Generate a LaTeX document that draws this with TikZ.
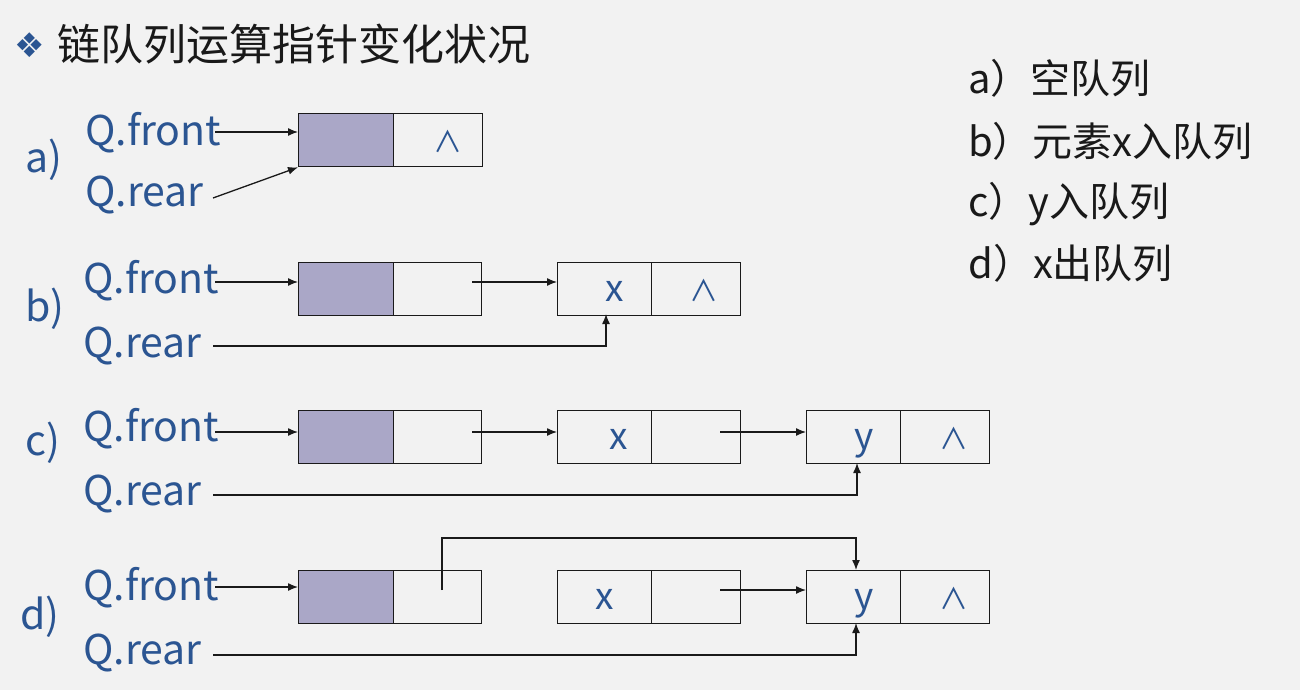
\documentclass[tikz,border=0pt]{standalone}
\usepackage{fontspec}
\setmainfont{Noto Sans CJK SC}
\newfontfamily\djv{DejaVu Sans}
\usetikzlibrary{arrows.meta}
\definecolor{bg}{HTML}{F2F2F2}
\definecolor{qblue}{HTML}{2B5592}
\definecolor{shade}{HTML}{AAA7C7}
\definecolor{ln}{HTML}{1A1A1A}
\begin{document}
\begin{tikzpicture}[x=1pt,y=-1pt,
  cell/.style={draw=ln, line width=1.3pt, minimum height=53pt, inner sep=0pt, anchor=north west,
               text height=24pt, text depth=0pt,
               text=qblue, font=\fontsize{37}{39}\selectfont},
  head/.style={cell, fill=shade, minimum width=95pt},
  ptr/.style={cell, minimum width=88pt},
  dat/.style={cell, minimum width=94pt},
  nilc/.style={cell, minimum width=89pt, font=\fontsize{29}{31}\selectfont},
  qlab/.style={anchor=base west, inner sep=0pt, text=qblue, font=\fontsize{41}{43}\selectfont},
  legend/.style={anchor=base west, inner sep=0pt, text=black!90, font=\fontsize{40}{42}\selectfont},
  arr/.style={draw=ln, line width=1.3pt, -{Latex[length=10pt,width=8pt]}},
  wire/.style={draw=ln, line width=1.3pt}]
\fill[bg] (0,0) rectangle (1300,690);
\useasboundingbox (0,0) rectangle (1300,690);

% title
\node[anchor=center, inner sep=0pt, text=qblue, font=\djv\fontsize{34}{36}\selectfont] (bullet) at (30,45) {❖};
\node[anchor=base west, inner sep=0pt, text=black!90, font=\fontsize{43}{45}\selectfont] (title) at (57,61) {链队列运算指针变化状况};

% legend
\node[legend] (la) at (968,94) {a）空队列};
\node[legend] (lb) at (968,156) {b）元素x入队列};
\node[legend] (lc) at (968,216) {c）y入队列};
\node[legend] (ld) at (968,278) {d）x出队列};

% ---------- row a ----------
\node[qlab] (ra) at (25,172) {a)};
\node[qlab] (qfa) at (85,145) {Q.front};
\node[qlab] (qra) at (85,206) {Q.rear};
\node[head] (a1) at (298,113) {};
\node[nilc] (a2) at (393,113) {\hspace*{20pt}∧};
\coordinate (afs) at (215,132);
\coordinate (ars) at (213,198);
\draw[arr] (afs) -- (afs -| a1.west);
\draw[arr] (ars) -- (a1.south west);

% ---------- row b ----------
\node[qlab] (rb) at (25,321) {b)};
\node[qlab] (qfb) at (83,293) {Q.front};
\node[qlab] (qrb) at (83,357) {Q.rear};
\node[head] (b1) at (298,262) {};
\node[ptr] (b2) at (393,262) {};
\node[dat] (b3) at (557,262) {\hspace*{20pt}x};
\node[nilc] (b4) at (651,262) {\hspace*{15pt}∧};
\coordinate (bfs) at (215,282);
\coordinate (bps) at (472,282);
\coordinate (brs) at (213,346);
\coordinate (brt) at (606,314);
\draw[arr] (bfs) -- (bfs -| b1.west);
\draw[arr] (bps) -- (bps -| b3.west);
\draw[arr] (brs) -| (brt);

% ---------- row c ----------
\node[qlab] (rc) at (25,455) {c)};
\node[qlab] (qfc) at (83,441) {Q.front};
\node[qlab] (qrc) at (83,505) {Q.rear};
\node[head] (c1) at (298,410) {};
\node[ptr] (c2) at (393,410) {};
\node[dat] (c3) at (557,410) {\hspace*{28pt}x};
\node[ptr, minimum width=89pt] (c4) at (651,410) {};
\node[dat] (c5) at (806,410) {\hspace*{20pt}y};
\node[nilc] (c6) at (900,410) {\hspace*{17pt}∧};
\coordinate (cfs) at (215,432);
\coordinate (cps) at (472,432);
\coordinate (cqs) at (720,432);
\coordinate (crs) at (213,495);
\coordinate (crt) at (857,463);
\draw[arr] (cfs) -- (cfs -| c1.west);
\draw[arr] (cps) -- (cps -| c3.west);
\draw[arr] (cqs) -- (cqs -| c5.west);
\draw[arr] (crs) -| (crt);

% ---------- row d ----------
\node[qlab] (rd) at (20,629) {d)};
\node[qlab] (qfd) at (83,600) {Q.front};
\node[qlab] (qrd) at (83,664) {Q.rear};
\node[head] (d1) at (298,570) {};
\node[ptr] (d2) at (393,570) {};
\node[dat] (d3) at (557,570) {x};
\node[ptr, minimum width=89pt] (d4) at (651,570) {};
\node[dat] (d5) at (806,570) {\hspace*{20pt}y};
\node[nilc] (d6) at (900,570) {\hspace*{17pt}∧};
\coordinate (dfs) at (215,587);
\coordinate (dps) at (442,590);
\coordinate (dpt) at (856,570);
\coordinate (dqs) at (720,590);
\coordinate (drs) at (213,655);
\coordinate (drt) at (856,623);
\draw[arr] (dfs) -- (dfs -| d1.west);
\draw[arr] (dps) -- (442,538) -- (856,538) -- (dpt);
\draw[arr] (dqs) -- (dqs -| d5.west);
\draw[arr] (drs) -| (drt);
\end{tikzpicture}
\end{document}
